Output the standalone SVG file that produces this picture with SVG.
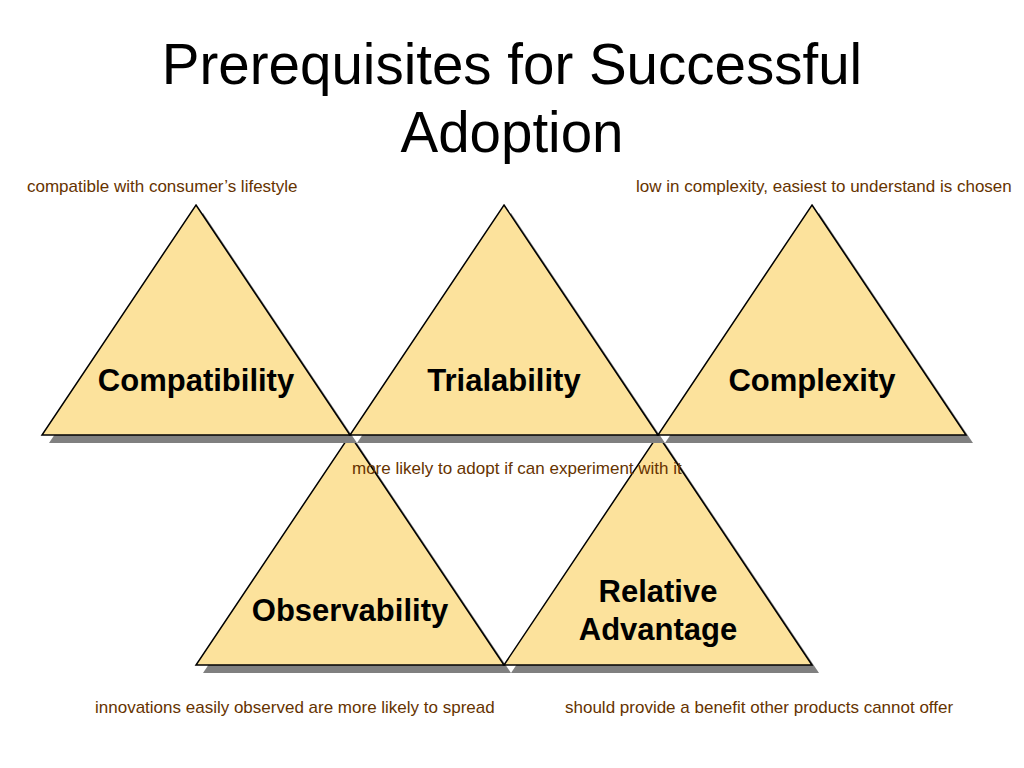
<svg xmlns="http://www.w3.org/2000/svg" width="1024" height="768" viewBox="0 0 1024 768">
<style>
.shadow{fill:#808080;stroke:none}
.tri{fill:#FCE29C;stroke:#000;stroke-width:1.5;stroke-linejoin:miter}
.lbl{font-family:"Liberation Sans",Arial,sans-serif;font-weight:bold;font-size:31px;fill:#000;text-anchor:middle}
.note{font-family:"Liberation Sans",Arial,sans-serif;font-size:17px;fill:#663300}
.title{font-family:"Liberation Sans",Arial,sans-serif;font-size:56.5px;fill:#000;text-anchor:middle}
</style>
<rect width="1024" height="768" fill="#fff"/>
<g id="title">
<text class="title" x="512" y="84">Prerequisites for Successful</text>
<text class="title" x="512" y="152">Adoption</text>
</g>
<g id="observability">
<polygon class="shadow" points="357,443 511,673 203,673"/>
<polygon class="tri" points="350,435 504,665 196,665"/>
<text class="lbl" x="350" y="621">Observability</text>
</g>
<g id="relative-advantage">
<polygon class="shadow" points="665,443 819,673 511,673"/>
<polygon class="tri" points="658,435 812,665 504,665"/>
<text class="lbl" x="658" y="602">Relative</text>
<text class="lbl" x="658" y="640">Advantage</text>
</g>
<g id="compatibility">
<polygon class="shadow" points="203,213 357,443 49,443"/>
<polygon class="tri" points="196,205 350,435 42,435"/>
<text class="lbl" x="196" y="391">Compatibility</text>
</g>
<g id="trialability">
<polygon class="shadow" points="511,213 665,443 357,443"/>
<polygon class="tri" points="504,205 658,435 350,435"/>
<text class="lbl" x="504" y="391">Trialability</text>
</g>
<g id="complexity">
<polygon class="shadow" points="819,213 973,443 665,443"/>
<polygon class="tri" points="812,205 966,435 658,435"/>
<text class="lbl" x="812" y="391">Complexity</text>
</g>
<g id="notes">
<text class="note" x="27" y="192">compatible with consumer’s lifestyle</text>
<text class="note" x="636" y="192">low in complexity, easiest to understand is chosen</text>
<text class="note" x="352" y="474">more likely to adopt if can experiment with it</text>
<text class="note" x="95" y="713">innovations easily observed are more likely to spread</text>
<text class="note" x="565" y="713">should provide a benefit other products cannot offer</text>
</g>
</svg>
